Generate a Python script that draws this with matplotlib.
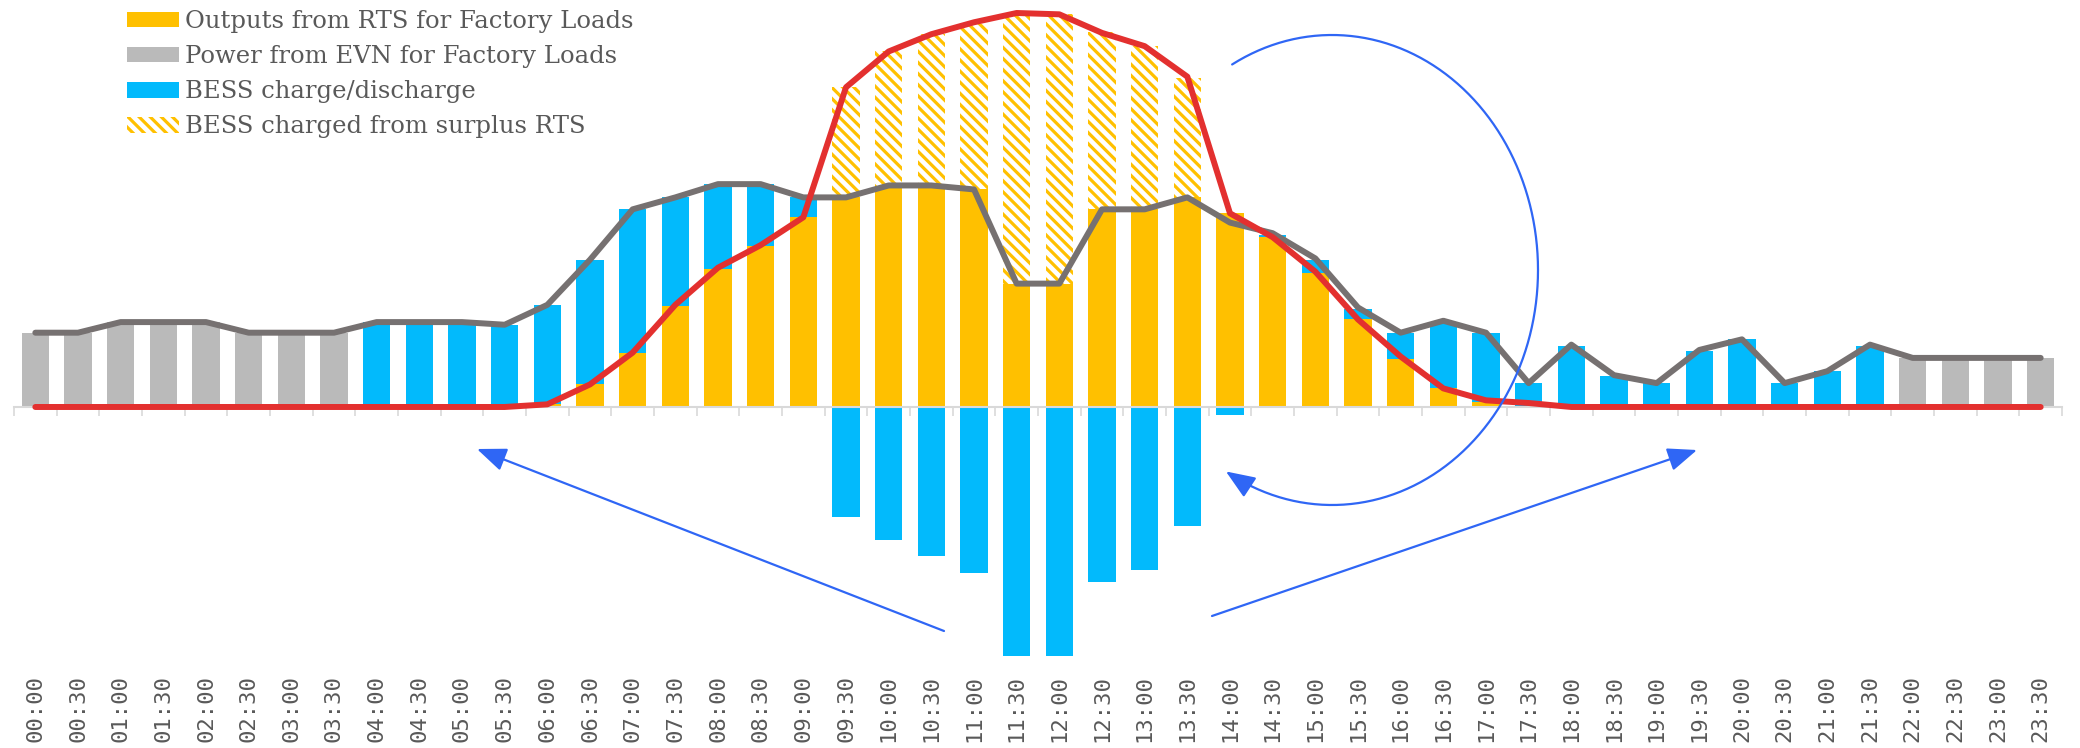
import numpy as np
import matplotlib
matplotlib.use('Agg')
import matplotlib.pyplot as plt
from matplotlib.patches import Patch, FancyArrowPatch
from matplotlib.path import Path

# half-hour slots
times = ['%02d:%02d' % (h, m) for h in range(24) for m in (0, 30)]

# values (arbitrary power units)
rts_for_load = [0, 0, 0, 0, 0, 0, 0, 0, 0, 0, 0, 0,
                2, 17, 41, 76, 104, 121, 143, 158, 166, 166, 164, 93,
                93, 149, 149, 158, 146, 128, 101, 66, 36, 14, 4, 1,
                0, 0, 0, 0, 0, 0, 0, 0, 0, 0, 0, 0]
evn_power = [56, 56, 64, 64, 64, 56, 56, 56, 0, 0, 0, 0,
             0, 0, 0, 0, 0, 0, 0, 0, 0, 0, 0, 0,
             0, 0, 0, 0, 0, 0, 0, 0, 0, 0, 0, 0,
             0, 0, 0, 0, 0, 0, 0, 0, 37, 37, 37, 37]
bess_discharge = [0, 0, 0, 0, 0, 0, 0, 0, 64, 64, 64, 62,
                  75, 94, 108, 82, 64, 47, 15, 0, 0, 0, 0, 0,
                  0, 0, 0, 0, 0, 2, 10, 8, 20, 50, 52, 17,
                  46, 23, 18, 42, 51, 18, 27, 46, 0, 0, 0, 0]
bess_charge = [0, 0, 0, 0, 0, 0, 0, 0, 0, 0, 0, 0,
               0, 0, 0, 0, 0, 0, 0, -83, -100, -112, -125, -188,
               -188, -132, -123, -90, -6, 0, 0, 0, 0, 0, 0, 0,
               0, 0, 0, 0, 0, 0, 0, 0, 0, 0, 0, 0]
surplus_rts = [0, 0, 0, 0, 0, 0, 0, 0, 0, 0, 0, 0,
               0, 0, 0, 0, 0, 0, 0, 83, 102, 115, 125, 204,
               203, 134, 123, 90, 0, 0, 0, 0, 0, 0, 0, 0,
               0, 0, 0, 0, 0, 0, 0, 0, 0, 0, 0, 0]
factory_load = [56, 56, 64, 64, 64, 56, 56, 56, 64, 64, 64, 62,
                77, 111, 149, 158, 168, 168, 158, 158, 167, 167, 164, 93,
                93, 149, 149, 158, 139, 131, 112, 75, 56, 65, 56, 18,
                47, 24, 18, 43, 51, 18, 27, 47, 37, 37, 37, 37]
rts_total = [0, 0, 0, 0, 0, 0, 0, 0, 0, 0, 0, 0,
             2, 17, 41, 77, 105, 122, 143, 241, 268, 281, 290, 297,
             296, 282, 272, 249, 146, 128, 102, 66, 38, 14, 5, 3,
             0, 0, 0, 0, 0, 0, 0, 0, 0, 0, 0, 0]

ORANGE = '#FFC000'
GREY = '#BABABA'
BLUE = '#02BAFC'
RED = '#E3302F'
LOADC = '#767171'
ARROW = '#2F66F5'
TXT = '#595959'
HATCH = '\\\\\\'

plt.rcParams['hatch.linewidth'] = 2.3

W, H = 2080, 748
fig = plt.figure(figsize=(W / 100, H / 100), dpi=100)
ax = fig.add_axes([14 / W, (H - 665) / H, (2062 - 14) / W, 665 / H])

x = np.arange(len(times))
bw = 0.64
rts = np.array(rts_for_load)
evn = np.array(evn_power)
dis = np.array(bess_discharge)

ax.bar(x, rts, bw, color=ORANGE, lw=0, zorder=2)
ax.bar(x, evn, bw, bottom=rts, color=GREY, lw=0, zorder=2)
ax.bar(x, dis, bw, bottom=rts + evn, color=BLUE, lw=0, zorder=2)
ax.bar(x, surplus_rts, bw, bottom=rts + evn + dis, color='white',
       edgecolor=ORANGE, hatch=HATCH, lw=0, zorder=2)
ax.bar(x, bess_charge, bw, color=BLUE, lw=0, zorder=2)

ax.plot(x, factory_load, color=LOADC, lw=4.3, solid_capstyle='round',
        solid_joinstyle='round', zorder=4)
ax.plot(x, rts_total, color=RED, lw=4.3, solid_capstyle='round',
        solid_joinstyle='round', zorder=5)

ax.set_xlim(-0.5, len(times) - 0.5)
ax.set_ylim(-194.5, 306.8)
for s in ['top', 'left', 'right']:
    ax.spines[s].set_visible(False)
ax.spines['bottom'].set_position(('data', 0))
ax.spines['bottom'].set_color('#D9D9D9')
ax.spines['bottom'].set_linewidth(1.5)
ax.spines['bottom'].set_zorder(3)
ax.set_yticks([])
ax.set_xticks(np.arange(-0.5, len(times), 1))
ax.set_xticklabels([])
ax.tick_params(axis='x', length=6.5, width=1.2, color='#D9D9D9', direction='out')

sec = ax.secondary_xaxis(0.0)
sec.set_xticks(x)
sec.set_xticklabels(times, rotation=90, fontsize=16, family='DejaVu Sans Mono',
                    color=TXT)
sec.tick_params(length=0, pad=7)
sec.spines['bottom'].set_visible(False)

handles = [Patch(facecolor=ORANGE, lw=0),
           Patch(facecolor=GREY, lw=0),
           Patch(facecolor=BLUE, lw=0),
           Patch(facecolor='white', edgecolor=ORANGE, hatch=HATCH, lw=0)]
labels = ['Outputs from RTS for Factory Loads', 'Power from EVN for Factory Loads',
          'BESS charge/discharge', 'BESS charged from surplus RTS']
leg = fig.legend(handles, labels, loc='upper left',
                 bbox_to_anchor=(127 / W, 1 - 10 / H), frameon=False,
                 prop={'family': 'DejaVu Serif', 'size': 17.5},
                 handlelength=2.14, handleheight=0.62, handletextpad=0.25,
                 labelspacing=0.5, borderpad=0, borderaxespad=0)
for t in leg.get_texts():
    t.set_color(TXT)


def fx(px):
    return px / W


def fy(py):
    return 1 - py / H


style = '-|>,head_length=1.0,head_width=0.4'

# straight arrows
for (x0, y0), (x1, y1) in [((944, 631), (477, 449)), ((1212, 616), (1697, 450))]:
    arr = FancyArrowPatch((fx(x0), fy(y0)), (fx(x1), fy(y1)),
                          transform=fig.transFigure, arrowstyle=style,
                          mutation_scale=18, color=ARROW, lw=1.6,
                          shrinkA=0, shrinkB=0)
    fig.add_artist(arr)

# curved arrow round the charging period
t = np.radians(np.linspace(119, -121, 120))
cx, cy, ra, rb = 1332, 270, 206, 235
verts = np.column_stack([fx(cx + ra * np.cos(t)), fy(cy - rb * np.sin(t))])
arc = FancyArrowPatch(path=Path(verts), transform=fig.transFigure,
                      arrowstyle=style, mutation_scale=18, color=ARROW, lw=1.6)
fig.add_artist(arc)

fig.savefig('out.png', dpi=100)
